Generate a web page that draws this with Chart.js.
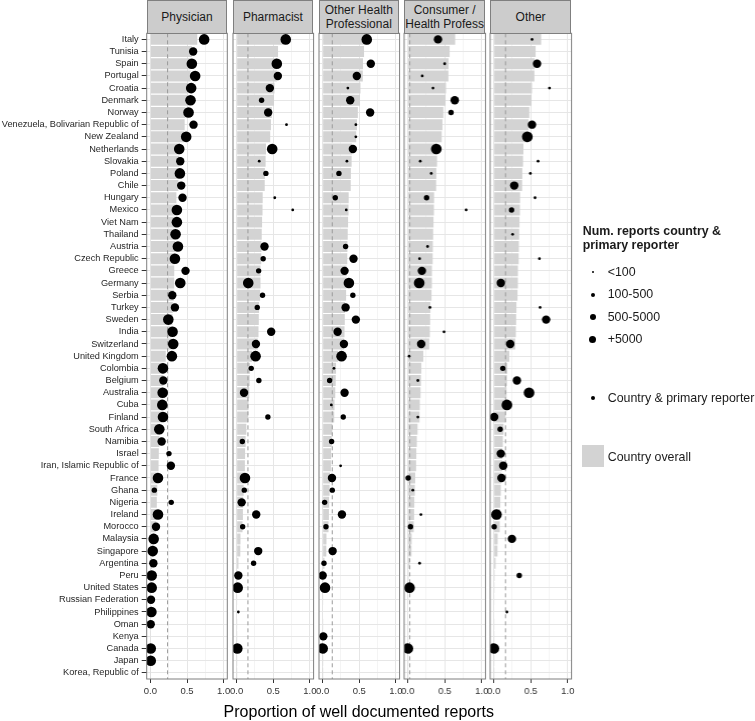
<!DOCTYPE html>
<html><head><meta charset="utf-8">
<script src="https://cdn.jsdelivr.net/npm/chart.js@4.4.1/dist/chart.umd.min.js"></script>
<style>
html,body{margin:0;padding:0;background:#fff;}
#root{position:relative;width:755px;height:721px;overflow:hidden;font-family:"Liberation Sans",Arial,sans-serif;background:#fff;}
.cw{position:absolute;top:0;height:721px;}
.strip{position:absolute;top:0;height:34px;box-sizing:border-box;border:1px solid #7f7f7f;background:#cccccc;color:#1a1a1a;font-size:12px;line-height:14px;display:flex;align-items:center;justify-content:center;text-align:center;overflow:hidden;white-space:nowrap;}
.lg{position:absolute;color:#1a1a1a;font-size:12.4px;white-space:nowrap;}
.dot{position:absolute;background:#000;border-radius:50%;}
</style>
</head><body><div id="root"></div>
<script>
// ---------- data ----------
const countries = ["Italy","Tunisia","Spain","Portugal","Croatia","Denmark","Norway","Venezuela, Bolivarian Republic of","New Zealand","Netherlands","Slovakia","Poland","Chile","Hungary","Mexico","Viet Nam","Thailand","Austria","Czech Republic","Greece","Germany","Serbia","Turkey","Sweden","India","Switzerland","United Kingdom","Colombia","Belgium","Australia","Cuba","Finland","South Africa","Namibia","Israel","Iran, Islamic Republic of","France","Ghana","Nigeria","Ireland","Morocco","Malaysia","Singapore","Argentina","Peru","United States","Russian Federation","Philippines","Oman","Kenya","Canada","Japan","Korea, Republic of"];

const overall = [0.64,0.565,0.55,0.548,0.516,0.51,0.48,0.468,0.458,0.40,0.395,0.385,0.383,0.355,0.353,0.347,0.342,0.338,0.336,0.326,0.325,0.32,0.306,0.302,0.298,0.29,0.21,0.183,0.178,0.172,0.162,0.158,0.132,0.122,0.115,0.112,0.10,0.095,0.088,0.085,0.08,0.052,0.05,0.024,0.012,0.01,0.008,0.007,0.005,0.004,0.003,0.002,0.001];

// size class: 0 "<100", 1 "100-500", 2 "500-5000", 3 "+5000"
const physician = [0.734,0.584,0.566,0.611,0.557,0.548,0.521,0.589,0.489,0.394,0.408,0.403,0.421,0.439,0.362,0.362,0.344,0.376,0.335,0.48,0.408,0.299,0.335,0.245,0.303,0.312,0.294,0.172,0.177,0.168,0.163,0.172,0.122,0.154,0.254,0.28,0.104,0.054,0.285,0.104,0.077,0.045,0.032,0.041,0.018,0.018,0.009,0.014,0.005,null,0.005,0.005,null];
const physicianSize = [3,2,3,3,3,3,3,2,3,3,2,3,2,2,3,3,3,3,3,2,3,2,2,3,3,3,3,3,2,3,3,3,3,2,1,2,3,1,1,3,2,3,3,2,3,3,2,3,2,null,3,3,null];

const pharmacist = [0.67,null,0.548,0.562,0.453,0.34,0.43,0.68,null,0.485,0.308,0.399,null,0.52,0.765,null,null,0.38,0.362,0.30,0.158,0.353,0.281,null,0.471,0.263,0.258,0.199,0.303,0.10,null,0.426,null,0.077,null,null,0.113,0.104,0.068,0.267,0.082,null,0.294,0.231,0.023,0.014,null,0.023,null,null,0.009,null,null];
const pharmacistSize = [3,null,3,2,2,1,2,0,null,3,0,1,null,0,0,null,null,2,1,1,3,1,1,null,2,2,3,1,1,2,null,1,null,1,null,null,3,1,2,2,1,null,2,1,2,3,null,0,null,null,3,null,null];

const otherHP = [0.602,null,0.657,0.466,0.344,0.376,0.648,0.453,0.453,0.412,0.331,0.222,null,0.172,0.322,null,null,0.313,0.421,0.299,0.358,0.412,0.313,0.453,0.204,0.29,0.258,0.154,0.095,0.299,0.118,0.281,null,0.122,null,0.245,0.127,0.131,0.027,0.263,0.045,null,0.136,0.018,0.0,0.032,null,null,null,0.009,0.0,null,null];
const otherHPSize = [3,null,2,2,0,2,2,0,0,2,0,1,null,1,0,null,null,1,2,2,3,1,2,2,2,2,3,0,1,2,0,1,null,1,null,0,2,1,1,2,1,null,2,1,2,3,null,null,null,2,3,null,null];

const consumer = [0.408,null,0.498,0.195,0.34,0.634,0.584,null,null,0.385,0.168,0.317,null,0.254,0.788,null,null,0.267,0.159,0.19,0.154,null,0.299,null,0.489,0.181,0.018,null,0.136,null,null,0.136,null,null,null,null,0.005,0.068,null,0.177,0.036,null,null,0.159,null,0.023,null,null,null,null,0.0,null,null];
const consumerSize = [2,null,0,0,0,2,1,null,null,3,0,0,null,1,0,null,null,0,0,2,3,null,0,null,0,2,0,null,0,null,null,0,null,null,null,null,1,0,null,0,1,null,null,0,null,3,null,null,null,null,3,null,null];

const other = [0.516,null,0.584,null,0.752,null,null,0.516,0.453,null,0.598,0.494,0.276,0.557,0.24,null,0.254,null,0.616,null,0.095,null,0.625,0.707,null,0.222,null,0.122,0.312,0.476,0.177,0.005,0.086,null,0.095,0.127,0.104,null,null,0.036,0.005,0.245,null,null,0.344,null,null,0.177,null,null,0.0,null,null];
const otherSize = [0,null,2,null,0,null,null,2,3,null,0,0,2,0,1,null,0,null,0,null,2,null,0,2,null,2,null,1,2,3,3,2,1,null,2,2,2,null,null,3,1,2,null,null,1,null,null,0,null,null,3,null,null];

const panelNames = ["Physician","Pharmacist","Other Health\nProfessional","Consumer /\nHealth Profess","Other"];
const refLines = [0.235,0.154,0.131,0.027,0.158];
const xTickValues = [0,0.25,0.5,0.75,1];
const xTickLabelled = [0,0.5,1];
const sizeLabels = ["<100","100-500","500-5000","+5000"];

// ---------- layout / style ----------
const root = document.getElementById('root');
Chart.defaults.font.family = '"Liberation Sans", Arial, sans-serif';
const radii = [1.4, 2.7, 4.2, 5.3];
const PAD = 12, panelW = 80.6, plotTop = 33.3, plotBottom = 679, xAxisH = 20;
const panelLefts = [146.7, 232.6, 318.5, 404.4, 490.3];
const series = [[physician,physicianSize],[pharmacist,pharmacistSize],[otherHP,otherHPSize],[consumer,consumerSize],[other,otherSize]];

const panelPlugin = {
  id: 'panelDeco',
  afterDatasetDraw(chart, args, opts) {
    if (args.meta.type !== 'bar') return;
    const {ctx, chartArea} = chart;
    const x = chart.scales.x.getPixelForValue(opts.ref);
    ctx.save();
    ctx.beginPath();
    ctx.rect(chartArea.left, chartArea.top, chartArea.width, chartArea.height);
    ctx.clip();
    ctx.strokeStyle = '#9a9a9a';
    ctx.lineWidth = 1;
    ctx.setLineDash([4, 3]);
    ctx.beginPath();
    ctx.moveTo(x, chartArea.top);
    ctx.lineTo(x, chartArea.bottom);
    ctx.stroke();
    ctx.restore();
  },
  afterDraw(chart) {
    const {ctx, chartArea} = chart;
    ctx.save();
    ctx.strokeStyle = '#7f7f7f';
    ctx.lineWidth = 1;
    ctx.strokeRect(chartArea.left, chartArea.top, chartArea.width, chartArea.height);
    ctx.restore();
  }
};

series.forEach(([vals, sizes], k) => {
  const first = k === 0;
  const div = document.createElement('div');
  div.className = 'cw';
  const left = first ? 0 : panelLefts[k] - PAD;
  const width = first ? panelLefts[0] + panelW + PAD : panelW + 2 * PAD;
  div.style.left = left + 'px';
  div.style.width = width + 'px';
  const canvas = document.createElement('canvas');
  div.appendChild(canvas);
  root.appendChild(div);

  const pts = [];
  countries.forEach((c, i) => {
    if (vals[i] !== null && vals[i] !== undefined) pts.push({x: vals[i], y: c, r: radii[sizes[i]]});
  });

  new Chart(canvas, {
    type: 'bar',
    data: {
      labels: countries,
      datasets: [
        {type: 'bubble', data: pts, backgroundColor: '#000', borderWidth: 0, order: 0, clip: 0},
        {type: 'bar', data: overall, backgroundColor: '#d3d3d3', borderWidth: 0, barPercentage: 0.9, categoryPercentage: 1.0, order: 1}
      ]
    },
    options: {
      indexAxis: 'y',
      responsive: true,
      maintainAspectRatio: false,
      animation: false,
      events: [],
      layout: {padding: {left: first ? 0 : PAD, right: PAD, top: plotTop, bottom: 721 - plotBottom - xAxisH}},
      plugins: {legend: {display: false}, tooltip: {enabled: false}, panelDeco: {ref: refLines[k]}},
      scales: {
        x: {
          type: 'linear', position: 'bottom', min: -0.05, max: 1.05,
          afterBuildTicks: (s) => { s.ticks = xTickValues.map(v => ({value: v})); },
          afterFit: (s) => { s.height = xAxisH; },
          border: {display: false},
          grid: {
            color: (c) => (c.tick && (c.tick.value === 0.25 || c.tick.value === 0.75)) ? '#f4f4f4' : '#e6e6e6',
            tickColor: (c) => (c.tick && xTickLabelled.includes(c.tick.value)) ? '#333333' : 'rgba(0,0,0,0)',
            tickLength: 4, lineWidth: 1
          },
          ticks: {
            autoSkip: false, maxRotation: 0, minRotation: 0, padding: 3,
            color: '#333333', font: {size: 9.5},
            callback: (v) => xTickLabelled.includes(v) ? Number(v).toFixed(1) : ''
          }
        },
        y: {
          type: 'category', labels: countries, offset: true, position: 'left',
          afterFit: (s) => { s.width = first ? panelLefts[0] : 0; },
          border: {display: false},
          grid: {offset: false, color: '#e6e6e6', tickColor: '#333333', tickLength: first ? 5 : 0, drawTicks: first},
          ticks: {display: first, autoSkip: false, padding: 3, color: '#262626', font: {size: 9.2}}
        }
      }
    },
    plugins: [panelPlugin]
  });

  const strip = document.createElement('div');
  strip.className = 'strip';
  strip.style.left = panelLefts[k] + 'px';
  strip.style.width = panelW + 'px';
  strip.innerHTML = panelNames[k].split('\n').join('<br>');
  root.appendChild(strip);
});

// x-axis title
const xt = document.createElement('div');
xt.textContent = 'Proportion of well documented reports';
xt.style.cssText = 'position:absolute;left:' + panelLefts[0] + 'px;width:' + (panelLefts[4] + panelW - panelLefts[0]) + 'px;top:702px;text-align:center;font-size:16px;line-height:19px;color:#000;';
root.appendChild(xt);

// legend
function addText(txt, x, yc, extra) {
  const d = document.createElement('div');
  d.className = 'lg';
  d.textContent = txt;
  d.style.left = x + 'px';
  d.style.top = (yc - 7.5) + 'px';
  d.style.lineHeight = '15px';
  if (extra) d.style.cssText += extra;
  root.appendChild(d);
}
function addDot(cx, cy, r) {
  const d = document.createElement('div');
  d.className = 'dot';
  d.style.left = (cx - r) + 'px'; d.style.top = (cy - r) + 'px';
  d.style.width = (2 * r) + 'px'; d.style.height = (2 * r) + 'px';
  root.appendChild(d);
}
addText('Num. reports country &', 582.7, 231.7, 'font-weight:bold;');
addText('primary reporter', 582.7, 245.3, 'font-weight:bold;');
const legendRadii = [1.1, 2.1, 3.1, 3.8];
const legendY = [272.3, 294.7, 317.3, 339.7];
sizeLabels.forEach((t, i) => { addDot(592.7, legendY[i], legendRadii[i]); addText(t, 607.7, legendY[i]); });
addDot(592.7, 398.3, 2.1);
addText('Country & primary reporter', 607.7, 398.3);
const sq = document.createElement('div');
sq.style.cssText = 'position:absolute;left:582.3px;top:445px;width:21.7px;height:21.7px;background:#d3d3d3;';
root.appendChild(sq);
addText('Country overall', 607.7, 457.7);
</script>
</body></html>
